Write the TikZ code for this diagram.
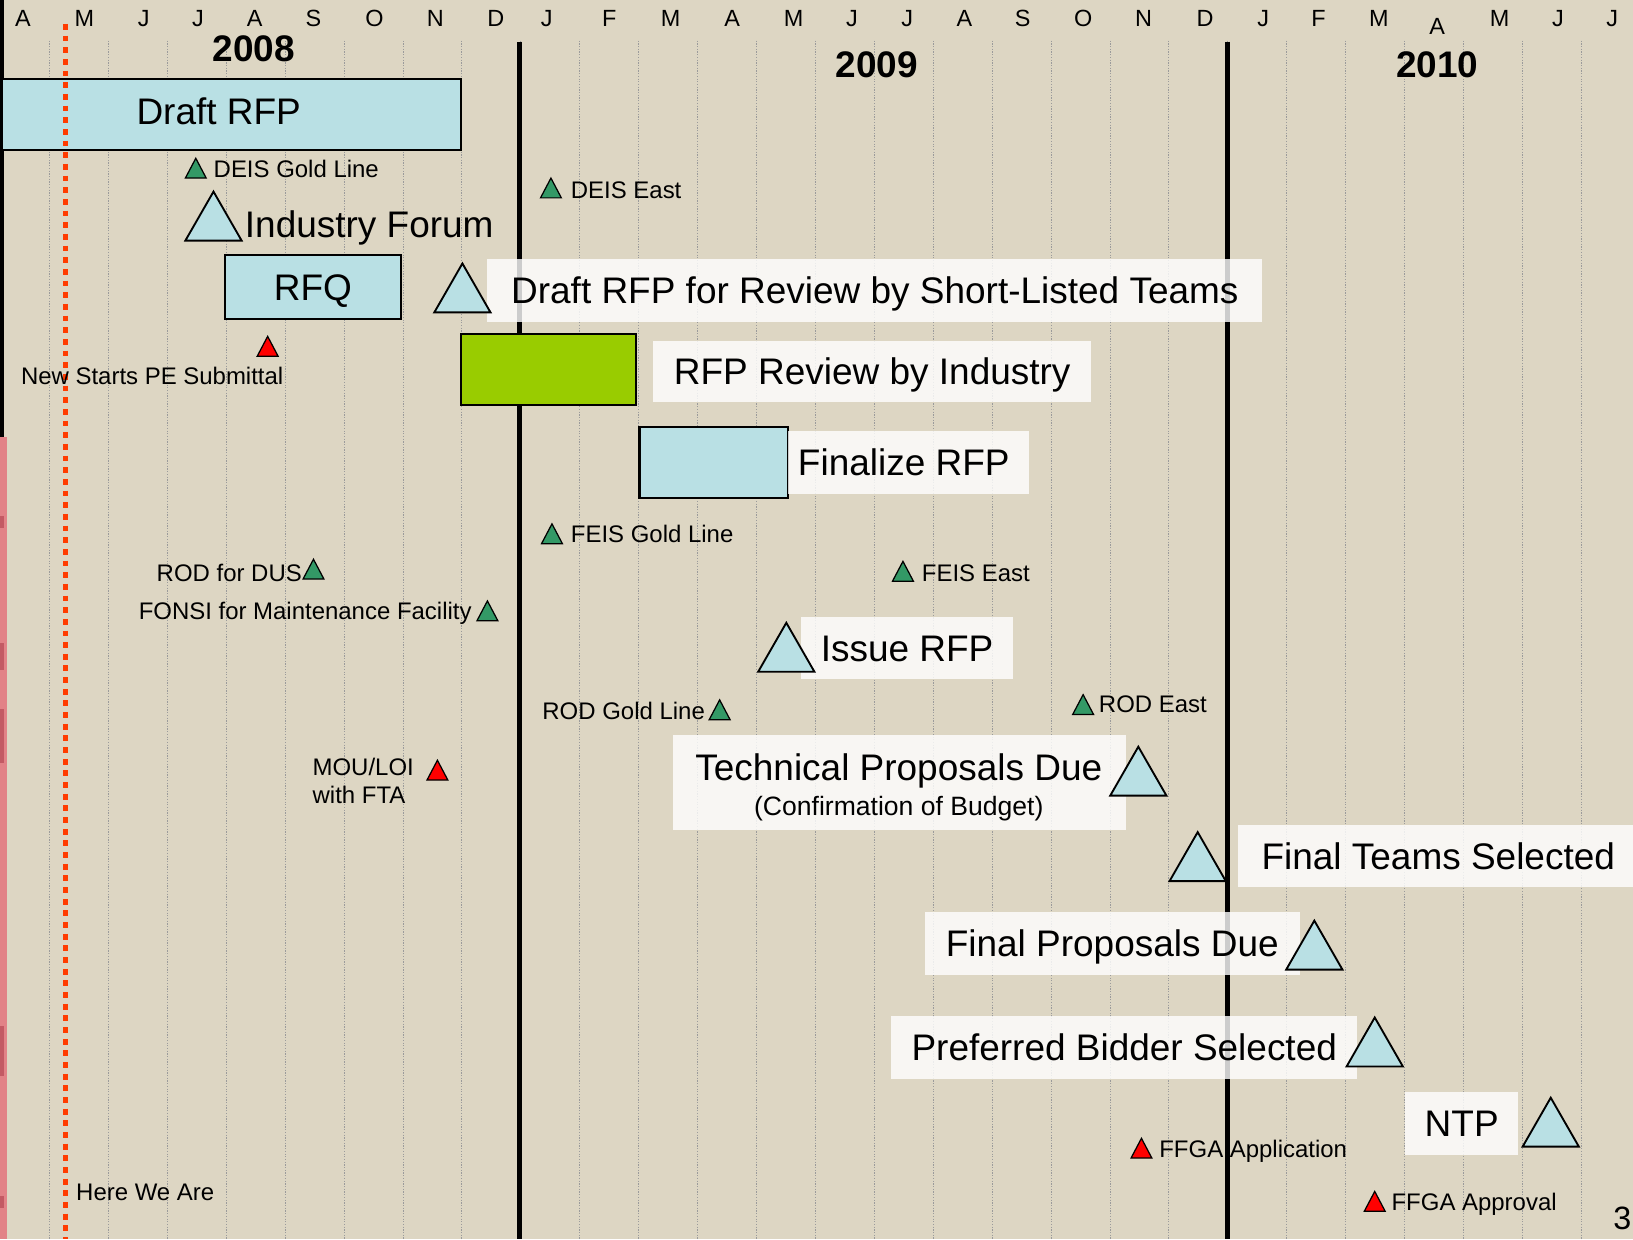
\documentclass[tikz,border=0pt]{standalone}
\usepackage{fontspec}
\setmainfont{Liberation Sans}
\newcommand\FBig{\fontsize{35.5pt}{40pt}\selectfont}
\newcommand\FSml{\fontsize{23pt}{27pt}\selectfont}
\newcommand\FConf{\fontsize{25.5pt}{30pt}\selectfont}
\newcommand\FMon{\fontsize{22.5pt}{27pt}\selectfont}
\newcommand\FYr{\fontsize{35.5pt}{40pt}\selectfont\bfseries}
\newcommand\FPg{\fontsize{31pt}{35pt}\selectfont}
\definecolor{bgc}{RGB}{221,214,195}
\definecolor{lblue}{RGB}{185,224,228}
\definecolor{lgreen}{RGB}{153,204,0}
\definecolor{tgreen}{RGB}{51,153,102}
\definecolor{hred}{RGB}{255,60,0}
\definecolor{gridc}{RGB}{155,155,155}
\definecolor{pinkc}{RGB}{226,130,135}
\definecolor{darkpink}{RGB}{195,90,100}
\begin{document}
\begin{tikzpicture}[x=1pt,y=-1pt,
 bar/.style={draw=black,line width=2pt,fill=lblue,inner sep=0pt},
 lbl/.style={fill=white,fill opacity=0.8,text opacity=1,draw=none,inner sep=0pt,font=\FBig,text height=25.4pt,text depth=0pt},
 bigc/.style={font=\FBig,inner sep=0pt,text height=25.4pt,text depth=0pt},
 smc/.style={font=\FSml,inner sep=0pt,text height=16.5pt,text depth=0pt},
 mon/.style={font=\FMon,inner sep=0pt,anchor=base},
 yr/.style={font=\FYr,inner sep=0pt,anchor=base},
 gridln/.style={draw=gridc,line width=0.6pt,dash pattern=on 1.2pt off 1.4pt},
 yearln/.style={draw=black,line width=4.8pt},
 nowln/.style={draw=hred,line width=5.5pt,dash pattern=on 5.6pt off 5.6pt},
 gtri/.style={draw=black,line width=1.2pt,fill=tgreen},
 rtri/.style={draw=black,line width=1.2pt,fill=red},
 btri/.style={draw=black,line width=1.8pt,fill=lblue},
 smtri/.pic={\path[pic actions] (-10,0) -- (0,-19) -- (10,0) -- cycle;},
 bigtri/.pic={\path[pic actions] (-27,0) -- (0,-47) -- (27,0) -- cycle;},
]
\useasboundingbox (0,0) rectangle (1568,1190);
\clip (0,0) rectangle (1568,1190);
\fill[bgc] (0,0) rectangle (1568,1190);
% left edge
\fill[black] (0,0) rectangle (3.5,420);
\fill[pinkc] (0,420) rectangle (7,1190);
\fill[darkpink] (0,495) rectangle (4,507);
\fill[darkpink] (0,617) rectangle (4,643);
\fill[darkpink] (0,681) rectangle (4,733);
\fill[darkpink] (0,985) rectangle (4,1033);
\fill[darkpink] (0,1148) rectangle (4,1160);
% grid
\foreach \k in {0,...,26}
  \draw[gridln] ({47.4+56.57*\k},39) -- ({47.4+56.57*\k},1190);
\draw[yearln] (499,40) -- (499,1190);
\draw[yearln] (1178.6,40) -- (1178.6,1190);
% months
\foreach \m/\xx [count=\i] in {A/22,M/81,J/138,J/190,A/244.5,S/301,O/359.5,N/418,D/476,J/525,F/585,M/644,A/703,M/762,J/818,J/871,A/926,S/982,O/1040,N/1098,D/1157,J/1213,F/1266,M/1324,M/1440,J/1496,J/1548}
  \node[mon] (mon\i) at (\xx,25) {\m};
\node[mon] (monA) at (1380,33) {A};
\node[yr] (y2008) at (243.6,59.5) {2008};
\node[yr] (y2009) at (842,74) {2009};
\node[yr] (y2010) at (1380,74) {2010};
% bars
\node[bar,minimum width=441pt,minimum height=68pt] (bdraft) at (222.5,110) {};
\node[bar,minimum width=169pt,minimum height=61pt,font=\FBig,text height=25.4pt,text depth=0pt] (brfq) at (300.5,275.5) {RFQ};
\node[bar,fill=lgreen,minimum width=168pt,minimum height=68pt] (bind) at (527,355) {};
\node[bar,minimum width=143pt,minimum height=68pt] (bfin) at (685.5,444) {};
% here we are
\draw[nowln] (63,23) -- (63,1190);
\node[bigc] (tdraft) at (210,107) {Draft RFP};
% label boxes
\node[lbl,minimum width=744pt,minimum height=60pt] (lrev) at (840,279) {Draft RFP for Review by Short-Listed Teams};
\node[lbl,minimum width=421pt,minimum height=59pt] (lind) at (837.5,356.5) {RFP Review by Industry};
\node[lbl,minimum width=231pt,minimum height=60pt] (lfin) at (872.5,444) {};
\node[bigc,anchor=west] (tfin) at (766,444) {Finalize RFP};
\node[lbl,minimum width=204pt,minimum height=60pt] (liss) at (871,622) {Issue RFP};
\node[lbl,minimum width=435pt,minimum height=91pt] (ltech) at (863.5,751.5) {};
\node[bigc] (ttech) at (863,737) {Technical Proposals Due};
\node[font=\FConf,inner sep=0pt,text height=18.3pt,text depth=0pt] (tconf) at (863,774) {(Confirmation of Budget)};
\node[lbl,minimum width=385pt,minimum height=60pt] (lteam) at (1381,822) {Final Teams Selected};
\node[lbl,minimum width=360pt,minimum height=60pt] (lprop) at (1068,906) {Final Proposals Due};
\node[lbl,minimum width=447pt,minimum height=60pt] (lpref) at (1079.5,1006) {Preferred Bidder Selected};
\node[lbl,minimum width=109pt,minimum height=60pt] (lntp) at (1403.5,1079) {NTP};
% big milestones
\pic[btri] at (205,231) {bigtri};
\pic[btri] at (444,300) {bigtri};
\pic[btri] at (755,645) {bigtri};
\pic[btri] at (1093,764) {bigtri};
\pic[btri] at (1150,846) {bigtri};
\pic[btri] at (1262,931) {bigtri};
\pic[btri] at (1320,1024) {bigtri};
\pic[btri] at (1489,1101) {bigtri};
\node[bigc,anchor=west] (tforum) at (235,215) {Industry Forum};
% small milestones
\pic[gtri] at (188,171) {smtri};
\pic[gtri] at (529,190) {smtri};
\pic[rtri] at (257,342) {smtri};
\pic[gtri] at (530,522) {smtri};
\pic[gtri] at (301,556) {smtri};
\pic[gtri] at (468,596) {smtri};
\pic[gtri] at (867,558) {smtri};
\pic[gtri] at (691,691) {smtri};
\pic[gtri] at (1040,686) {smtri};
\pic[rtri] at (420,749) {smtri};
\pic[rtri] at (1096,1112) {smtri};
\pic[rtri] at (1320,1163) {smtri};
\node[smc,anchor=west] (tdeisg) at (205,162) {DEIS Gold Line};
\node[smc,anchor=west] (tdeise) at (548,182) {DEIS East};
\node[smc,anchor=west] (tnspe) at (20,361) {New Starts PE Submittal};
\node[smc,anchor=west] (tfeisg) at (548,513) {FEIS Gold Line};
\node[smc,anchor=east] (troddus) at (290,550) {ROD for DUS};
\node[smc,anchor=east] (tfonsi) at (453,587) {FONSI for Maintenance Facility};
\node[smc,anchor=west] (tfeise) at (885,550) {FEIS East};
\node[smc,anchor=east] (trodg) at (677,683) {ROD Gold Line};
\node[smc,anchor=west] (trode) at (1055,676) {ROD East};
\node[smc,anchor=west] (tmou) at (300,736) {MOU/LOI};
\node[smc,anchor=west] (tfta) at (300,763) {with FTA};
\node[smc,anchor=west] (tffgaa) at (1113,1103) {FFGA Application};
\node[smc,anchor=west] (tffgap) at (1336,1154) {FFGA Approval};
\node[smc,anchor=west] (there) at (73,1144) {Here We Are};
\node[font=\FPg,inner sep=0pt,anchor=base west] (tpage) at (1549,1181) {3};
\end{tikzpicture}
\end{document}
